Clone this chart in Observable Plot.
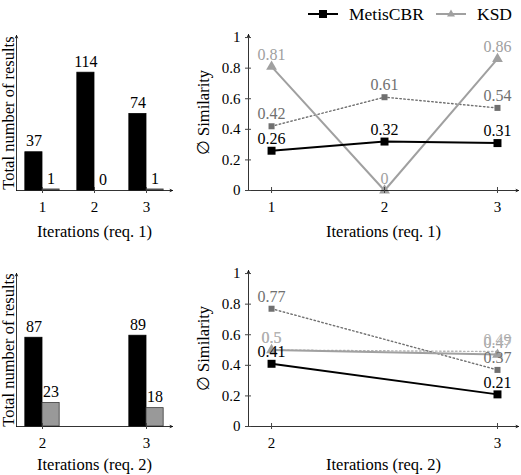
<!DOCTYPE html>
<html><head><meta charset="utf-8">
<script src="https://cdn.jsdelivr.net/npm/d3@7"></script>
<script src="https://cdn.jsdelivr.net/npm/@observablehq/plot@0.6"></script>
<style>
body{margin:0;background:#fff;}
#wrap{position:relative;width:521px;height:475px;font-family:"Liberation Serif","DejaVu Serif",serif;overflow:hidden;}
.panel{position:absolute;}
.panel svg{overflow:visible;}
</style></head><body><div id="wrap"></div>
<script>
// ---- data ----
const iterations1 = [1, 2, 3];
const resultsMetis1 = [37, 114, 74];
const resultsKSD1 = [1, 0, 1];
const iterations2 = [2, 3];
const resultsMetis2 = [87, 89];
const resultsKSD2 = [23, 18];
const simMetis1 = [0.26, 0.32, 0.31];
const simKSD1 = [0.81, 0, 0.86];
const simDotted1 = [0.42, 0.61, 0.54];
const simMetis2 = [0.41, 0.21];
const simKSD2 = [0.5, 0.47];
const simDotted2 = [0.77, 0.37];
const simDottedLight2 = [0.5, 0.49];
const simTicks = [0, 0.2, 0.4, 0.6, 0.8, 1];
const seriesNames = ["MetisCBR", "KSD"];
const xLabel1 = "Iterations (req. 1)";
const xLabel2 = "Iterations (req. 2)";
const yLabelBars = "Total number of results";
const yLabelSim = "∅ Similarity";

const FONT = '"Liberation Serif", "DejaVu Serif", serif';
const BLACK = "#000", KSDC = "#a0a0a0", DOTC = "#707070", LIGHTC = "#b4b4b4";
const wrap = document.getElementById("wrap");

function place(node, left, top) {
  const d = document.createElement("div");
  d.className = "panel";
  d.style.left = left + "px"; d.style.top = top + "px";
  d.appendChild(node); wrap.appendChild(d);
}

function axesMarks(xDomain, yDomain, ticks, yTicks) {
  const m = [
    Plot.arrow([xDomain], {x1: d => d[0], x2: d => d[1], y1: () => yDomain[0], y2: () => yDomain[0], stroke: "#000", strokeWidth: 0.8, headLength: 5, headAngle: 50}),
    Plot.arrow([yDomain], {x1: () => xDomain[0], x2: () => xDomain[0], y1: d => d[0], y2: d => d[1], stroke: "#000", strokeWidth: 0.8, headLength: 5, headAngle: 50}),
    Plot.axisX({ticks, tickFormat: d => String(d), tickSize: 3, tickPadding: 8, fontSize: 15, label: null, stroke: "#444"}),
    Plot.axisX({ticks, tickFormat: () => "", tickSize: 3, dy: -3, label: null, stroke: "#444"})
  ];
  if (yTicks) {
    m.push(Plot.axisY({ticks: yTicks, tickFormat: d => String(d), tickSize: 3, tickPadding: 5, fontSize: 15, label: null, stroke: "#444"}));
    m.push(Plot.axisY({ticks: yTicks, tickFormat: () => "", tickSize: 3, dx: 3, label: null, stroke: "#444"}));
  }
  return m;
}

function barPanel(iters, metis, ksd, xDomain, barW, xLabel, h, mt, mb, labelDy) {
  const rows = iters.map((it, i) => ({it, m: metis[i], k: ksd[i]}));
  const yDomain = [0, 150];
  return Plot.plot({
    width: 190, height: h, marginLeft: 16, marginRight: 18, marginTop: mt, marginBottom: mb,
    style: {fontFamily: FONT, background: "transparent", color: "#000"},
    x: {type: "linear", domain: xDomain, axis: null},
    y: {domain: yDomain, axis: null},
    marks: [
      Plot.rectY(rows, {x1: d => d.it - barW, x2: d => d.it, y: "m", fill: BLACK, stroke: BLACK, strokeWidth: 0.8}),
      Plot.rectY(rows, {x1: d => d.it, x2: d => d.it + barW, y: "k", fill: "#999", stroke: "#3a3a3a", strokeWidth: 0.8}),
      ...axesMarks(xDomain, yDomain, iters, null),
      Plot.text(rows, {x: d => d.it - barW / 2, y: "m", text: d => String(d.m), dy: -11, fontSize: 16, fill: "#000"}),
      Plot.text(rows, {x: d => d.it + barW / 2, y: "k", text: d => String(d.k), dy: -11, fontSize: 16, fill: "#000"}),
      Plot.text([xLabel], {frameAnchor: "bottom", lineAnchor: "middle", dy: labelDy, fontSize: 16.5, fill: "#000"}),
      Plot.text([yLabelBars], {frameAnchor: "left", textAnchor: "middle", lineAnchor: "middle", rotate: -90, dx: -8, fontSize: 16.5, fill: "#000"})
    ]
  });
}

function linePanel(iters, metis, ksd, dotted, light, xDomain, xLabel, h, mt, mb, labelDy) {
  const rows = iters.map((it, i) => ({it, m: metis[i], k: ksd[i], d: dotted[i], l: light ? light[i] : null}));
  const yDomain = [0, 1.02];
  const marks = [];
  if (light) {
    marks.push(Plot.line(rows, {x: "it", y: "l", stroke: LIGHTC, strokeWidth: 1.4, strokeDasharray: "1.5,2.5"}));
  }
  marks.push(
    Plot.line(rows, {x: "it", y: "d", stroke: DOTC, strokeWidth: 1.4, strokeDasharray: "1.5,2.5"}),
    Plot.dot(rows, {x: "it", y: "d", symbol: "square", fill: DOTC, r: 3.4}),
    Plot.line(rows, {x: "it", y: "k", stroke: KSDC, strokeWidth: 2}),
    Plot.dot(rows, {x: "it", y: "k", symbol: "triangle", fill: KSDC, r: 4}),
    Plot.line(rows, {x: "it", y: "m", stroke: BLACK, strokeWidth: 2}),
    Plot.dot(rows, {x: "it", y: "m", symbol: "square", fill: BLACK, r: 4.5}),
    ...axesMarks(xDomain, yDomain, iters, simTicks),
    Plot.text(rows, {x: "it", y: "d", text: d => String(d.d), dy: -12, fontSize: 16, fill: DOTC}),
    Plot.text(rows, {x: "it", y: "k", text: d => String(d.k), dy: -12, fontSize: 16, fill: KSDC}),
    Plot.text(rows, {x: "it", y: "m", text: d => String(d.m), dy: -12, fontSize: 16, fill: "#000"})
  );
  if (light) marks.push(Plot.text(rows, {x: "it", y: "l", text: d => String(d.l), dy: -12, fontSize: 16, fill: LIGHTC}));
  marks.push(
    Plot.text([xLabel], {frameAnchor: "bottom", lineAnchor: "middle", dy: labelDy, fontSize: 16.5, fill: "#000"}),
    Plot.text([yLabelSim], {frameAnchor: "left", textAnchor: "middle", lineAnchor: "middle", rotate: -90, dx: -45, fontSize: 16.5, fill: "#000"})
  );
  return Plot.plot({
    width: 331, height: h, marginLeft: 58, marginRight: 3, marginTop: mt, marginBottom: mb,
    style: {fontFamily: FONT, background: "transparent", color: "#000"},
    x: {type: "linear", domain: xDomain, axis: null},
    y: {domain: yDomain, axis: null},
    marks
  });
}

place(barPanel(iterations1, resultsMetis1, resultsKSD1, [0.5, 3.5], 0.33, xLabel1, 240, 35, 50, 41), 0, 0);
place(barPanel(iterations2, resultsMetis2, resultsKSD2, [1.75, 3.25], 0.165, xLabel2, 235, 33, 49, 38), 0, 240);
place(linePanel(iterations1, simMetis1, simKSD1, simDotted1, null, [0.796, 3.186], xLabel1, 240, 34, 50, 41), 190, 0);
place(linePanel(iterations2, simMetis2, simKSD2, simDotted2, simDottedLight2, [1.898, 3.093], xLabel2, 235, 30, 49, 38), 190, 240);

// legend
const ns = "http://www.w3.org/2000/svg";
const leg = document.createElementNS(ns, "svg");
leg.setAttribute("width", 230); leg.setAttribute("height", 28);
leg.style.fontFamily = FONT;
const legendItems = [
  {name: seriesNames[0], color: BLACK, sym: "square", x: 8},
  {name: seriesNames[1], color: KSDC, sym: "triangle", x: 136}
];
legendItems.forEach(it => {
  const g = document.createElementNS(ns, "g");
  const l = document.createElementNS(ns, "line");
  l.setAttribute("x1", it.x); l.setAttribute("x2", it.x + 30);
  l.setAttribute("y1", 14); l.setAttribute("y2", 14);
  l.setAttribute("stroke", it.color); l.setAttribute("stroke-width", 2);
  g.appendChild(l);
  let s;
  if (it.sym === "square") {
    s = document.createElementNS(ns, "rect");
    s.setAttribute("x", it.x + 11); s.setAttribute("y", 10); s.setAttribute("width", 8); s.setAttribute("height", 8);
  } else {
    s = document.createElementNS(ns, "path");
    const cx = it.x + 15;
    s.setAttribute("d", `M${cx},9.5L${cx + 4},16.5L${cx - 4},16.5Z`);
  }
  s.setAttribute("fill", it.color);
  g.appendChild(s);
  const t = document.createElementNS(ns, "text");
  t.setAttribute("x", it.x + 41); t.setAttribute("y", 20);
  t.setAttribute("font-size", 17.5); t.textContent = it.name;
  g.appendChild(t);
  leg.appendChild(g);
});
place(leg, 300, 0);
</script>
</body></html>
